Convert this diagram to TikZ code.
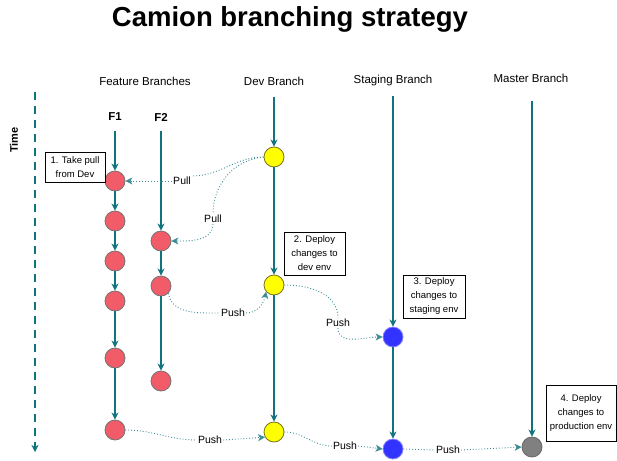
\documentclass[tikz,border=0pt]{standalone}
\usepackage{fontspec}
\setmainfont{Liberation Sans}
\usetikzlibrary{arrows.meta, positioning}
\definecolor{gitteal}{RGB}{16,115,125}
\definecolor{dotteal}{RGB}{60,140,150}
\definecolor{featred}{RGB}{241,92,104}
\definecolor{devyellow}{RGB}{255,255,0}
\definecolor{stageblue}{RGB}{51,51,255}
\definecolor{mastergray}{RGB}{128,128,128}

\begin{document}
\begin{tikzpicture}[
    x=1pt, y=-1pt,
    commit/.style={circle,draw=gray!90!black,line width=0.8pt,minimum size=20pt,inner sep=0pt},
    feat/.style={commit,fill=featred},
    devc/.style={commit,fill=devyellow,draw=olive!80!black},
    stagec/.style={commit,fill=stageblue,draw=stageblue!60},
    masterc/.style={commit,fill=mastergray,draw=gray!80!black},
    branch/.style={-{Stealth[length=7pt,width=7pt,inset=2pt]},gitteal,line width=1.2pt},
    flow/.style={-{Stealth[length=7pt,width=7pt,inset=2pt]},dotteal,dotted,line width=0.9pt},
    hdr/.style={font=\fontsize{11.5}{13}\selectfont},
    lbl/.style={font=\fontsize{10.5}{12}\selectfont,fill=white,inner sep=1pt},
    note/.style={draw,line width=0.7pt,fill=white,align=center,inner sep=1pt,
                 font=\fontsize{9.5}{14}\selectfont}
]
  \useasboundingbox (0,0) rectangle (617,460);

  % Title and column headers
  \node[font=\bfseries\fontsize{27.5}{32}\selectfont] (title) at (290,19) {Camion branching strategy};
  \node[hdr] (hfeat) at (145,81) {Feature Branches};
  \node[hdr] (hdev) at (274,81) {Dev Branch};
  \node[hdr] (hstage) at (393,81) {Staging Branch};
  \node[hdr] (hmaster) at (531,78) {Master Branch};
  \node[hdr,font=\bfseries\fontsize{11.5}{13}\selectfont] (hf1) at (115,117) {F1};
  \node[hdr,font=\bfseries\fontsize{11.5}{13}\selectfont] (hf2) at (161,117) {F2};

  % Time axis
  \node[font=\bfseries\fontsize{11}{13}\selectfont,rotate=90] (time) at (14,140) {Time};
  \coordinate (ttop) at (35,92);
  \coordinate (tbot) at (35,452);
  \draw[gitteal,line width=1.2pt,dash pattern=on 8pt off 6pt,-{Stealth[length=7pt,width=7pt,inset=2pt]}] (ttop) -- (tbot);

  % Branch starts
  \coordinate (f1top) at (115,131);
  \coordinate (f2top) at (161,131);
  \coordinate (devtop) at (274,97);
  \coordinate (stagetop) at (393,96);
  \coordinate (mastertop) at (532,101);

  % Commits
  \node[feat] (f1a) at (115,181) {};
  \node[feat] (f1b) at (115,221) {};
  \node[feat] (f1c) at (115,261) {};
  \node[feat] (f1d) at (115,301) {};
  \node[feat] (f1e) at (115,358) {};
  \node[feat] (f1f) at (115,430) {};
  \node[feat] (f2a) at (161,241) {};
  \node[feat] (f2b) at (161,286) {};
  \node[feat] (f2c) at (161,381) {};
  \node[devc] (d1) at (274,157) {};
  \node[devc] (d2) at (274,285) {};
  \node[devc] (d3) at (274,432) {};
  \node[stagec] (s1) at (393,337) {};
  \node[stagec] (s2) at (393,449) {};
  \node[masterc] (m1) at (532,447) {};

  % Branch lines
  \draw[branch] (f1top) -- (f1a);
  \draw[branch] (f1a) -- (f1b);
  \draw[branch] (f1b) -- (f1c);
  \draw[branch] (f1c) -- (f1d);
  \draw[branch] (f1d) -- (f1e);
  \draw[branch] (f1e) -- (f1f);
  \draw[branch] (f2top) -- (f2a);
  \draw[branch] (f2a) -- (f2b);
  \draw[branch] (f2b) -- (f2c);
  \draw[branch] (devtop) -- (d1);
  \draw[branch] (d1) -- (d2);
  \draw[branch] (d2) -- (d3);
  \draw[branch] (stagetop) -- (s1);
  \draw[branch] (s1) -- (s2);
  \draw[branch] (mastertop) -- (m1);

  % Notes
  \node[note,minimum width=60pt,minimum height=30pt] (n1) at (75,167) {1. Take pull\\from Dev};
  \node[note,minimum width=61pt,minimum height=43pt] (n2) at (314.5,253.5) {2. Deploy\\changes to\\dev env};
  \node[note,minimum width=62pt,minimum height=43pt] (n3) at (434,296.5) {3. Deploy\\changes to\\staging env};
  \node[note,minimum width=70pt,minimum height=56pt] (n4) at (581,413) {4. Deploy\\changes to\\production env};

  % Pull / push labels
  \node[lbl] (pull1) at (182,181) {Pull};
  \node[lbl] (pull2) at (213,219) {Pull};
  \node[lbl] (push1) at (233,313) {Push};
  \node[lbl] (push2) at (338,323) {Push};
  \node[lbl] (push3) at (210,440) {Push};
  \node[lbl] (push4) at (345,446) {Push};
  \node[lbl] (push5) at (448,450) {Push};

  % Pull / push connectors
  \draw[flow,-] (d1.west) to[out=180,in=0] (pull1.north east);
  \draw[flow] (pull1.west) -- (f1a.east);
  \draw[flow,-] (d1.west) to[out=185,in=90] (pull2.north);
  \draw[flow] (pull2.south) to[out=-90,in=0] (f2a.east);
  \draw[flow,-] (f2b.-45) to[out=-80,in=180] (push1.west);
  \draw[flow] (push1.east) to[out=0,in=-100] (d2.-140);
  \draw[flow,-] (d2.east) to[out=0,in=90] (push2.north);
  \draw[flow] (push2.south) to[out=-90,in=180] (s1.west);
  \draw[flow,-] (f1f.east) to[out=0,in=180] (push3.west);
  \draw[flow] (push3.east) -- (d3.-150);
  \draw[flow,-] (d3.east) to[out=0,in=180] (push4.west);
  \draw[flow] (push4.east) -- (s2.west);
  \draw[flow,-] (s2.east) -- (push5.west);
  \draw[flow] (push5.east) -- (m1.west);
\end{tikzpicture}
\end{document}
